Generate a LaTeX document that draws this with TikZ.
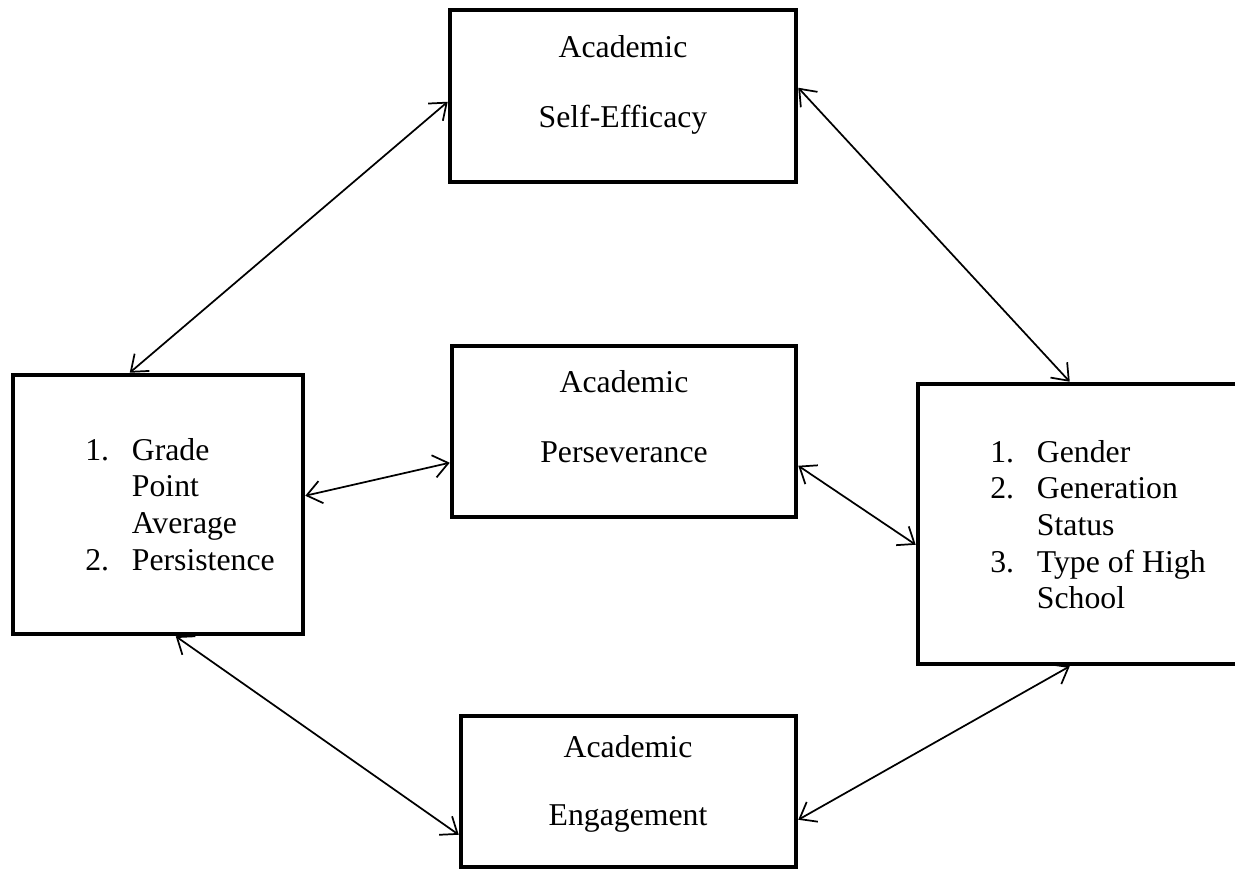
\documentclass[tikz,border=0pt]{standalone}
\usepackage{fontspec}
\setmainfont{Liberation Serif}
\usetikzlibrary{arrows.meta,fit,calc}

\newcommand{\listnum}[1]{\makebox[35pt][l]{#1}}

\begin{document}
\begin{tikzpicture}[x=0.75pt,y=0.75pt,yscale=-1,xscale=1,
  frame/.style={draw,line width=3.4pt,inner sep=0pt},
  txt/.style={inner sep=0pt,font=\fontsize{23.8}{27.5}\selectfont},
  arr/.style={line width=1.3pt,>={Straight Barb[length=11pt,width=17pt]},<->}]
\useasboundingbox (0,0) rectangle (1235,869);
\clip (0,0) rectangle (1235,869);

%Boxes
\node[frame,fit={(450,10) (796,182)}] (eff) {};
\node[frame,fit={(452,346) (796,517)}] (per) {};
\node[frame,fit={(461,716) (796,867)}] (eng) {};
\node[frame,fit={(13,375) (303,634)}] (gpa) {};
\node[frame,fit={(918,384) (1260,664)}] (dem) {};

% Text Node
\node[txt,anchor=base] (efftxt) at (623,57) {\begin{tabular}[t]{@{}c@{}}Academic\\[25pt]Self-Efficacy\end{tabular}};
% Text Node
\node[txt,anchor=base] (pertxt) at (624,392) {\begin{tabular}[t]{@{}c@{}}Academic\\[25pt]Perseverance\end{tabular}};
% Text Node
\node[txt,anchor=base] (engtxt) at (628,757) {\begin{tabular}[t]{@{}c@{}}Academic\\[24pt]Engagement\end{tabular}};
% Text Node
\node[txt,anchor=base west] (gpatxt) at (85,460) {\begin{tabular}[t]{@{}l@{}l@{}}
\listnum{1.}&Grade\\ &Point\\ &Average\\ \listnum{2.}&Persistence\end{tabular}};
% Text Node
\node[txt,anchor=base west] (demtxt) at (990,462) {\begin{tabular}[t]{@{}l@{}l@{}}
\listnum{1.}&Gender\\ \listnum{2.}&Generation\\ &Status\\ \listnum{3.}&Type of High\\ &School\end{tabular}};

%Straight Lines
\draw[arr] ($(gpa.north west)+(119,0)$) -- ($(eff.north west)+(0,94)$);
\draw[arr] ($(eff.north east)+(0,80)$) -- ($(dem.north west)+(154,0)$);
\draw[arr] ($(gpa.north east)+(0,123)$) -- ($(per.north west)+(0,119)$);
\draw[arr] ($(per.north east)+(0,122)$) -- ($(dem.north west)+(0,163)$);
\draw[arr] ($(gpa.south west)+(165,0)$) -- ($(eng.north west)+(0,121)$);
\draw[arr] ($(eng.north east)+(0,106)$) -- ($(dem.south west)+(154,0)$);

\end{tikzpicture}
\end{document}
